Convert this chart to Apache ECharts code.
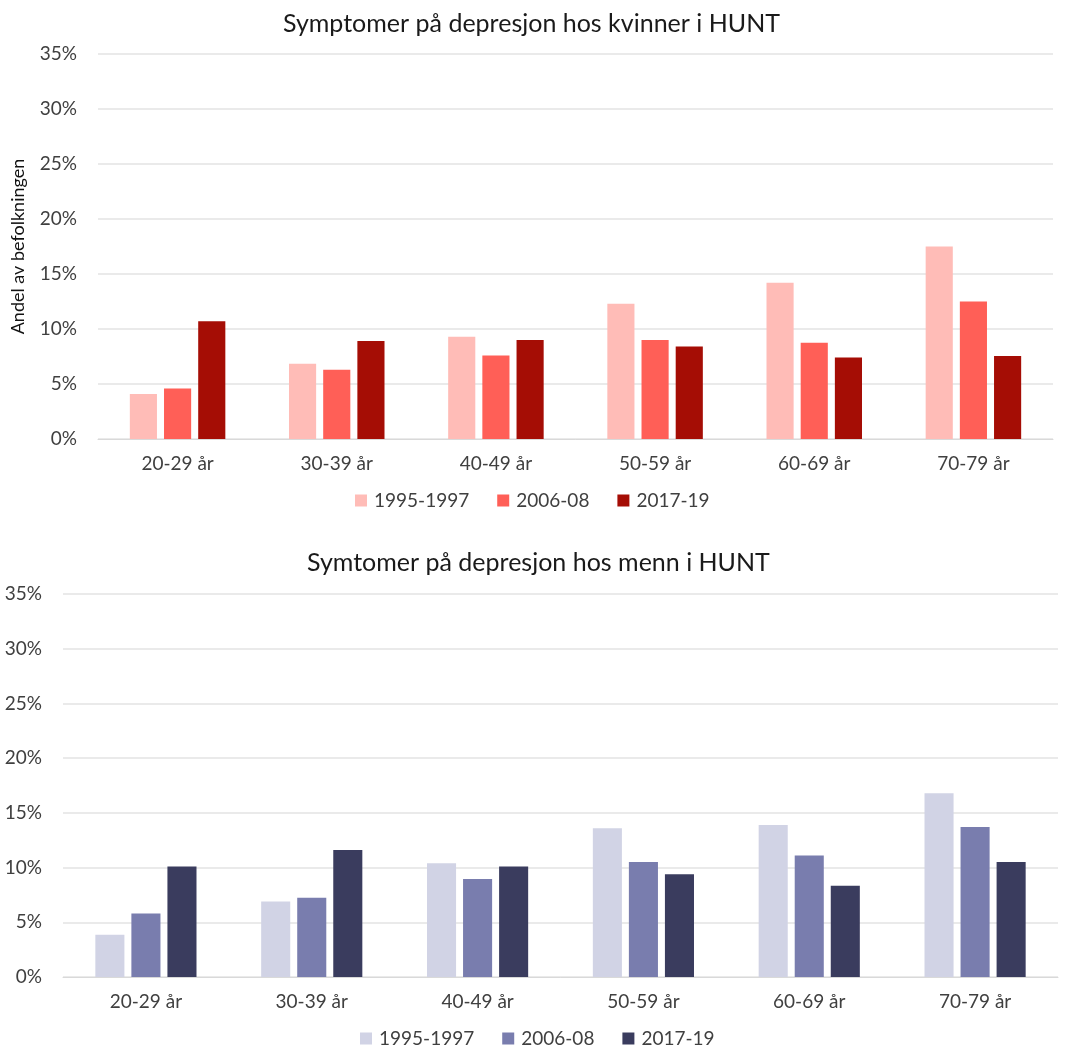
<!DOCTYPE html>
<html><head><meta charset="utf-8">
<script src="https://cdn.jsdelivr.net/npm/echarts@6/dist/echarts.min.js"></script>
<style>html,body{margin:0;padding:0;background:#fff}#c1{position:absolute;left:0;top:0;width:1076px;height:530px}#c2{position:absolute;left:0;top:530px;width:1076px;height:520px}</style>
</head><body><div id="c1"></div><div id="c2"></div>
<script>
const categories = ['20-29 år','30-39 år','40-49 år','50-59 år','60-69 år','70-79 år'];
const seriesNames = ['1995-1997','2006-08','2017-19'];
const yTicks = [0,5,10,15,20,25,30,35];
const women1995 = [4.1, 6.85, 9.3, 12.3, 14.2, 17.5];
const women2006 = [4.6, 6.3, 7.6, 9.0, 8.75, 12.5];
const women2017 = [10.7, 8.9, 9.0, 8.4, 7.4, 7.55];
const men1995 = [3.85, 6.9, 10.4, 13.6, 13.9, 16.8];
const men2006 = [5.8, 7.25, 8.95, 10.5, 11.1, 13.7];
const men2017 = [10.1, 11.6, 10.1, 9.4, 8.35, 10.5];
const womenColors = ['#FFBCB7','#FF5F57','#A50D05'];
const menColors = ['#D1D3E5','#797DAE','#3A3C5E'];
const FONT = 'Lato, "Open Sans", sans-serif';

function makeOption(cfg){
  return {
    animation:false,
    title:{text:cfg.title,left:cfg.titleLeft,top:cfg.titleTop,textStyle:{fontFamily:FONT,fontSize:25,fontWeight:'normal',color:'#1a1a1a'}},
    legend:{data:seriesNames,top:cfg.legendTop,left:cfg.legendLeft,itemWidth:12,itemHeight:12,itemGap:28,icon:'rect',
      textStyle:{fontFamily:FONT,fontSize:19,color:'#404040',padding:[0,0,0,2]}},
    grid:cfg.grid,
    xAxis:{type:'category',data:categories,axisTick:{show:false},
      axisLine:{lineStyle:{color:'#D9D9D9',width:1}},
      axisLabel:{fontFamily:FONT,fontSize:19,color:'#404040',margin:15}},
    yAxis:{type:'value',min:yTicks[0],max:yTicks[yTicks.length-1],interval:5,
      name:cfg.yName,nameLocation:'middle',nameGap:cfg.nameGap,nameRotate:90,
      nameTextStyle:{fontFamily:FONT,fontSize:18,color:'#111'},
      axisLabel:{formatter:'{value}%',fontFamily:FONT,fontSize:19,color:'#404040',margin:21},
      splitLine:{lineStyle:{color:'#E3E3E3',width:1.5}},axisLine:{show:false},axisTick:{show:false}},
    series:cfg.data.map((d,i)=>({name:seriesNames[i],type:'bar',data:d,
      barGap:cfg.barGap,barCategoryGap:cfg.catGap,itemStyle:{color:cfg.colors[i]}}))
  };
}

const c1 = echarts.init(document.getElementById('c1'));
c1.setOption(makeOption({
  title:'Symptomer på depresjon hos kvinner i HUNT',titleLeft:278,titleTop:6,legendTop:486,legendLeft:350,
  grid:{left:98,right:23,top:54,bottom:91},
  yName:'Andel av befolkningen',nameGap:71,
  data:[women1995,women2006,women2017],colors:womenColors,barGap:'26%',catGap:'40%'
}));
const c2 = echarts.init(document.getElementById('c2'));
c2.setOption(makeOption({
  title:'Symtomer på depresjon hos menn i HUNT',titleLeft:302,titleTop:15,legendTop:494,legendLeft:355,
  grid:{left:63,right:18,top:64,bottom:73},
  yName:'',nameGap:50,
  data:[men1995,men2006,men2017],colors:menColors,barGap:'24%',catGap:'39%'
}));
</script></body></html>
